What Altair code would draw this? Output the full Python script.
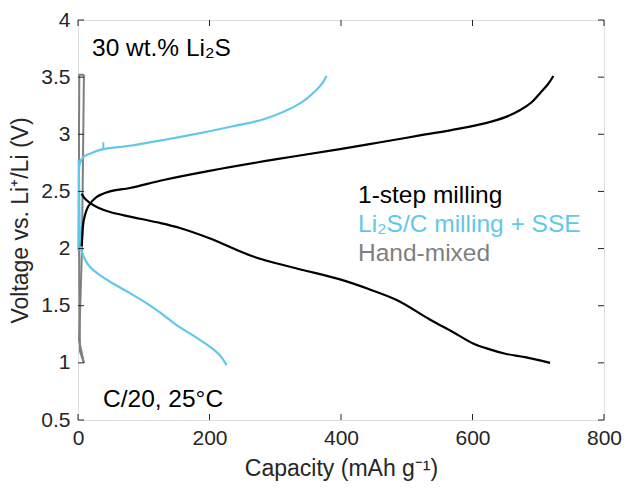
import altair as alt
import pandas as pd

# ---- voltage profiles (capacity in mAh/g, voltage in V) ----
# 1-step milling
step_dis_cap = [5.6, 10, 18, 30, 48.7, 79, 120, 155, 200, 266.6, 330, 398.5, 440, 484.7, 535, 570, 601, 625, 650, 680, 718]
step_dis_v = [2.48, 2.44, 2.40, 2.36, 2.32, 2.28, 2.23, 2.18, 2.09, 1.93, 1.83, 1.73, 1.65, 1.55, 1.38, 1.27, 1.17, 1.12, 1.08, 1.05, 1.00]
step_chg_cap = [5.6, 6.5, 8, 11, 15.7, 28, 48.7, 79, 130, 200, 300, 398.5, 460, 520, 580, 621.6, 650, 672, 690, 702.7, 715, 723]
step_chg_v = [2.02, 2.10, 2.22, 2.30, 2.37, 2.45, 2.50, 2.53, 2.60, 2.68, 2.78, 2.87, 2.93, 2.99, 3.05, 3.10, 3.15, 3.21, 3.28, 3.36, 3.44, 3.51]

# Li2S/C milling + SSE
mill_dis_cap = [1, 1.5, 2, 2.5, 3.5, 5, 8, 12, 18, 30, 48.7, 79, 99.3, 125, 150, 175, 200.8, 215, 226]
mill_dis_v = [2.78, 2.60, 2.40, 2.20, 2.06, 1.99, 1.94, 1.89, 1.84, 1.78, 1.71, 1.61, 1.54, 1.44, 1.33, 1.24, 1.14, 1.07, 0.98]
mill_chg_cap = [0.5, 0.7, 1, 1.5, 3, 8, 18, 38.5, 79, 130, 185.6, 235.7, 287, 337.6, 363, 372, 378]
mill_chg_v = [1.98, 2.20, 2.50, 2.68, 2.75, 2.80, 2.83, 2.87, 2.90, 2.95, 3.01, 3.07, 3.14, 3.27, 3.39, 3.45, 3.51]
mill_spike_cap = [38.5, 38.5]
mill_spike_v = [2.87, 2.93]

# Hand-mixed
hand_dis_cap = [9, 8, 7, 6, 4, 1.5, 9]
hand_dis_v = [3.52, 3.00, 2.50, 2.00, 1.60, 1.20, 1.00]
hand_chg_cap = [9, 3, 2, 1.5, 1.5, 2, 9]
hand_chg_v = [1.00, 1.10, 1.60, 2.40, 3.00, 3.52, 3.52]

series_names = ["Hand-mixed", "Li2S/C milling + SSE", "1-step milling"]
series_colors = ["#7F7F7F", "#62C8EA", "#000000"]

x_ticks = [0, 200, 400, 600, 800]
y_ticks = [0.5, 1, 1.5, 2, 2.5, 3, 3.5, 4]


def frame(branches):
    rows = []
    for series, branch, caps, volts in branches:
        for i, (c, v) in enumerate(zip(caps, volts)):
            rows.append({"series": series, "branch": branch, "idx": i, "cap": c, "volt": v})
    return pd.DataFrame(rows)


smooth_df = frame([
    ("Li2S/C milling + SSE", "mill_dis", mill_dis_cap, mill_dis_v),
    ("Li2S/C milling + SSE", "mill_chg", mill_chg_cap, mill_chg_v),
    ("1-step milling", "step_dis", step_dis_cap, step_dis_v),
    ("1-step milling", "step_chg", step_chg_cap, step_chg_v),
])
straight_df = frame([
    ("Hand-mixed", "hand_dis", hand_dis_cap, hand_dis_v),
    ("Hand-mixed", "hand_chg", hand_chg_cap, hand_chg_v),
    ("Li2S/C milling + SSE", "mill_spike", mill_spike_cap, mill_spike_v),
])

W, H = 526, 400
FONT = "Liberation Sans"
INK = "#262626"

xscale = alt.Scale(domain=[0, 800], nice=False, zero=False)
yscale = alt.Scale(domain=[0.5, 4], nice=False, zero=False)
color = alt.Color("series:N", scale=alt.Scale(domain=series_names, range=series_colors), legend=None)

x_axis = alt.Axis(values=x_ticks, title="Capacity (mAh g⁻¹)", grid=False, domain=False,
                  ticks=False, tickSize=0, labelPadding=7, labelFontSize=21, labelFlush=False,
                  titleFontSize=23, titleFontWeight="normal", titlePadding=9,
                  labelColor=INK, titleColor=INK, labelFont=FONT, titleFont=FONT)
y_axis = alt.Axis(values=y_ticks, title="Voltage vs. Li⁺/Li (V)", grid=False, domain=False,
                  ticks=False, tickSize=0, labelPadding=8, labelFontSize=21, labelFlush=False,
                  titleFontSize=23, titleFontWeight="normal", titlePadding=8,
                  labelColor=INK, titleColor=INK, labelFont=FONT, titleFont=FONT,
                  labelExpr="datum.value % 1 == 0 ? format(datum.value, 'd') : format(datum.value, '.1f')")

straight = alt.Chart(straight_df).mark_line(strokeWidth=2).encode(
    x=alt.X("cap:Q", scale=xscale, axis=x_axis),
    y=alt.Y("volt:Q", scale=yscale, axis=y_axis),
    color=color, detail="branch:N", order="idx:Q",
)
smooth = alt.Chart(smooth_df).mark_line(strokeWidth=2.2, interpolate="catmull-rom").encode(
    x=alt.X("cap:Q", scale=xscale),
    y=alt.Y("volt:Q", scale=yscale),
    color=color, detail="branch:N", order="idx:Q",
)

xt = pd.DataFrame({"t": x_ticks})
yt = pd.DataFrame({"t": y_ticks})
tick_len = 6
ticks_bottom = alt.Chart(xt).mark_rule(color=INK, strokeWidth=1).encode(
    x=alt.X("t:Q", scale=xscale), y=alt.value(H), y2=alt.value(H - tick_len))
ticks_top = alt.Chart(xt).mark_rule(color=INK, strokeWidth=1).encode(
    x=alt.X("t:Q", scale=xscale), y=alt.value(0), y2=alt.value(tick_len))
ticks_left = alt.Chart(yt).mark_rule(color=INK, strokeWidth=1).encode(
    y=alt.Y("t:Q", scale=yscale), x=alt.value(0), x2=alt.value(tick_len))
ticks_right = alt.Chart(yt).mark_rule(color=INK, strokeWidth=1).encode(
    y=alt.Y("t:Q", scale=yscale), x=alt.value(W), x2=alt.value(W - tick_len))


def label(text, x, y, color="#000000", size=24.5):
    return alt.Chart(pd.DataFrame({"s": [text]})).mark_text(
        align="left", baseline="alphabetic", font=FONT, fontSize=size, color=color
    ).encode(text="s:N", x=alt.value(x), y=alt.value(y))


annotations = [
    label("30 wt.% Li₂S", 14, 36),
    label("C/20, 25°C", 25, 387),
    label("1-step milling", 280, 183, "#000000"),
    label("Li₂S/C milling + SSE", 280, 212, "#62C8EA"),
    label("Hand-mixed", 280, 241, "#7F7F7F"),
]

chart = alt.layer(
    straight, smooth, ticks_bottom, ticks_top, ticks_left, ticks_right, *annotations
).properties(
    width=W, height=H,
    autosize=alt.AutoSizeParams(type="none"),
    padding={"left": 78, "top": 20, "right": 20, "bottom": 71},
).configure_view(stroke=INK, strokeWidth=1.2).configure(background="white")

chart.save("out.html", embed_options={"renderer": "svg", "actions": False})
